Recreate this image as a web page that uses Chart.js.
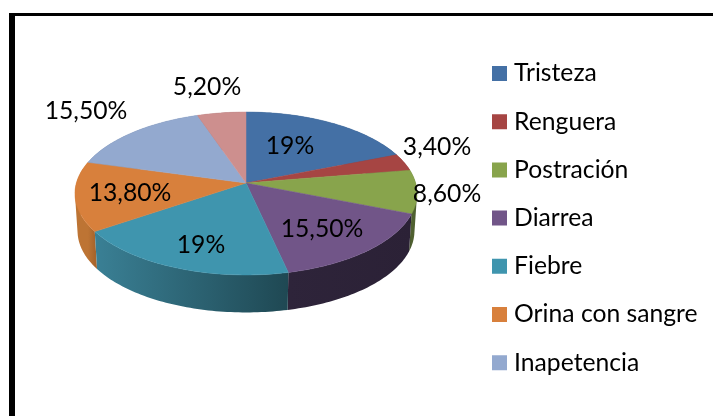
<!DOCTYPE html>
<html><head><meta charset="utf-8">
<style>
html,body{margin:0;padding:0;background:#fff}
#wrap{position:absolute;left:0;top:0;width:713px;height:416px;overflow:hidden}
#frameL{position:absolute;left:9px;top:13px;width:6px;height:403px;background:#000}
#frameT{position:absolute;left:9px;top:13px;width:704px;height:3px;background:#000}
canvas{position:absolute;left:0;top:0}
</style>
<script src="https://cdn.jsdelivr.net/npm/chart.js@4"></script>
</head><body>
<div id="wrap"><canvas id="c" width="713" height="416"></canvas><div id="frameL"></div><div id="frameT"></div></div>
<script>
const categories = ['Tristeza','Renguera','Postración','Diarrea','Fiebre','Orina con sangre','Inapetencia'];
const values = [19,3.4,8.6,15.5,19,13.8,15.5,5.2];
const valueLabels = ['19%','3,40%','8,60%','15,50%','19%','13,80%','15,50%','5,20%'];
const topColors = ['#4470a5','#a64543','#88a44c','#715588','#3f95ae','#d8803c','#93a9cf','#cd8f8e'];
const sideLight = ['#2f4f77','#773130','#4f6030','#2e243a','#3a8095','#bd7434','#6a7a96','#8f6463'];
const sideDark = ['#2f4f77','#773130','#45552a','#2b2136','#1f4853','#a8652c','#6a7a96','#8f6463'];
const labelOffsets = [[44,-37],[191,-36],[201,11],[76,46],[-45,62],[-116,10],[-160,-72],[-39,-96]];
const FONT = 'Lato, Carlito, sans-serif';
const FONT_SIZE = 24.7, LEGEND_PAD = 23.5;

const persp = -0.1288, squashY = 0.4723, depthY = 37.5, sideScaleX = 0.985;
function project(el, angle, lower){
  const u = Math.cos(angle), v = Math.sin(angle), d = 1 + persp*v, R = el.outerRadius;
  const sx = lower ? sideScaleX : 1;
  return [el.x + R*sx*u/d, el.y + (lower?depthY:0) + R*squashY*v/d];
}
function arcPoints(el, lower){
  const pts = [], n = Math.max(2, Math.ceil((el.endAngle-el.startAngle)/0.02));
  for(let i=0;i<=n;i++) pts.push(project(el, el.startAngle+(el.endAngle-el.startAngle)*i/n, lower));
  return pts;
}
function signedArea(q){
  let s = 0;
  q.forEach((p,i)=>{ const r = q[(i+1)%q.length]; s += p[0]*r[1]-r[0]*p[1]; });
  return s;
}
const pie3d = {
  id:'pie3d',
  afterLayout(chart){
    chart.legend.left = 497.25 - LEGEND_PAD;
    chart.legend.top = 73.5 - LEGEND_PAD - FONT_SIZE/2;
    chart.chartArea.bottom = 366;
    chart.chartArea.height = 366;
  },
  beforeDatasetDraw(chart, args){
    const ctx = chart.ctx, arcs = args.meta.data;
    const order = arcs.map((a,i)=>i).sort((a,b)=>{
      const m = e => Math.sin((e.startAngle+e.endAngle)/2);
      return m(arcs[a])-m(arcs[b]);
    });
    order.forEach(i=>{
      const el = arcs[i], up = arcPoints(el,false), lo = arcPoints(el,true);
      const g = ctx.createLinearGradient(up[up.length-1][0],0,up[0][0],0);
      g.addColorStop(0, sideLight[i]); g.addColorStop(1, sideDark[i]);
      ctx.fillStyle=g;
      ctx.beginPath();
      for(let k=0;k<up.length-1;k++){
        let q = [up[k],up[k+1],lo[k+1],lo[k]];
        if(signedArea(q)<0) q = q.reverse();
        q.forEach((p,j)=> j?ctx.lineTo(p[0],p[1]):ctx.moveTo(p[0],p[1]));
        ctx.closePath();
      }
      ctx.fill();
    });
    arcs.forEach((el,i)=>{
      ctx.beginPath(); ctx.moveTo(el.x,el.y);
      arcPoints(el,false).forEach(p=>ctx.lineTo(p[0],p[1]));
      ctx.closePath(); ctx.fillStyle=topColors[i]; ctx.fill();
      ctx.strokeStyle=topColors[i]; ctx.lineWidth=0.5; ctx.stroke();
    });
    return false;
  },
  afterDatasetsDraw(chart){
    const ctx = chart.ctx, el0 = chart.getDatasetMeta(0).data[0];
    ctx.save();
    ctx.font = FONT_SIZE+'px '+FONT; ctx.fillStyle='#000'; ctx.textAlign='center'; ctx.textBaseline='middle';
    valueLabels.forEach((t,i)=>ctx.fillText(t, el0.x+labelOffsets[i][0], el0.y+labelOffsets[i][1]));
    ctx.restore();
  }
};
new Chart(document.getElementById('c'),{
  type:'pie',
  data:{labels:categories,datasets:[{data:values,backgroundColor:topColors,borderWidth:0,radius:169.6}]},
  plugins:[pie3d],
  options:{
    responsive:false,animation:false,rotation:0,
    plugins:{
      tooltip:{enabled:false},
      legend:{
        position:'right',align:'start',maxWidth:221,
        labels:{
          boxWidth:4.5,boxHeight:4.5,padding:LEGEND_PAD,color:'#000',
          font:{family:FONT,size:FONT_SIZE},
          generateLabels(chart){
            return Chart.overrides.pie.plugins.legend.labels.generateLabels(chart)
              .map(it=>Object.assign(it,{strokeStyle:it.fillStyle,lineWidth:10.5}));
          },
          filter:item=>item.index<categories.length
        }
      }
    }
  }
});
</script>
</body></html>
